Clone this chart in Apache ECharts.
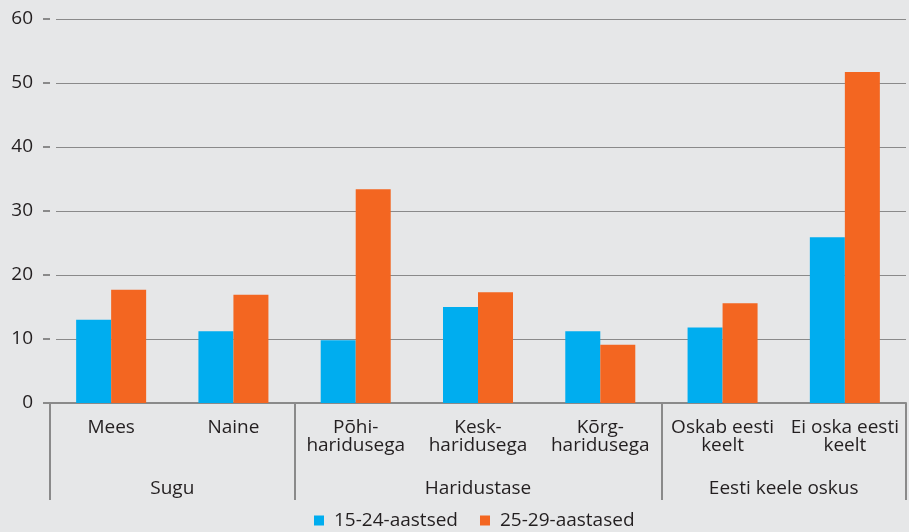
<!DOCTYPE html>
<html>
<head>
<meta charset="utf-8">
<script src="https://cdn.jsdelivr.net/npm/echarts@6/dist/echarts.min.js"></script>
<style>
  html, body { margin: 0; padding: 0; background: #e6e7e8; }
  #chart { width: 909px; height: 532px; }
</style>
</head>
<body>
<div id="chart"></div>
<script>
// andmed
var categories = ['Mees', 'Naine', 'Põhi-\nharidusega', 'Kesk-\nharidusega', 'Kõrg-\nharidusega', 'Oskab eesti\nkeelt', 'Ei oska eesti\nkeelt'];
var groups = ['Sugu', 'Haridustase', 'Eesti keele oskus'];
var groupEdges = [0, 2, 5, 7];
var groupCenters = [1, 3.5, 6];
var seriesNames = ['15-24-aastsed', '25-29-aastased'];
var young = [13.0, 11.2, 9.8, 15.0, 11.2, 11.8, 25.9];
var older = [17.7, 16.9, 33.4, 17.3, 9.1, 15.6, 51.7];
var yTicks = [0, 10, 20, 30, 40, 50, 60];

var font = '"Open Sans", sans-serif';
var txt = '#231f20';
var gray = '#8a8a8a';

var myChart = echarts.init(document.getElementById('chart'));
var option = {
    backgroundColor: '#e6e7e8',
    textStyle: { fontFamily: font },
    animation: false,
    grid: [
        { left: 50, right: 3, top: 19, bottom: 129 },
        { left: 56, right: 3, top: 19, bottom: 129 }
    ],
    legend: {
        bottom: -3,
        left: 309,
        itemWidth: 10,
        itemHeight: 10,
        itemGap: 22,
        icon: 'rect',
        textStyle: { fontFamily: font, fontSize: 19, color: txt, padding: [0, 0, 0, 5] },
        data: seriesNames
    },
    xAxis: [
        {
            type: 'category',
            gridIndex: 0,
            data: categories,
            axisLine: { lineStyle: { color: gray, width: 2 } },
            axisTick: { length: 60, interval: 0, lineStyle: { color: gray, width: 2 } },
            axisLabel: { interval: 0, margin: 16, fontSize: 19, lineHeight: 18, color: txt, fontFamily: font }
        },
        {
            type: 'value',
            gridIndex: 0,
            position: 'bottom',
            min: 0,
            max: 7,
            axisLine: { show: false },
            splitLine: { show: false },
            axisTick: { show: true, length: 97, customValues: groupEdges, lineStyle: { color: gray, width: 2 } },
            axisLabel: {
                margin: 76, fontSize: 19, color: txt, fontFamily: font,
                customValues: groupCenters,
                formatter: function (v) { return groups[groupCenters.indexOf(v)]; }
            }
        },
        { type: 'value', gridIndex: 1, show: false, min: 0, max: 1 }
    ],
    yAxis: [
        {
            type: 'value',
            gridIndex: 0,
            min: yTicks[0],
            max: yTicks[yTicks.length - 1],
            interval: 10,
            axisLine: { show: false },
            splitLine: { show: false },
            axisTick: { show: true, length: 7, lineStyle: { color: gray, width: 2 } },
            axisLabel: { margin: 17, fontSize: 19, color: txt, fontFamily: font }
        },
        {
            type: 'value',
            gridIndex: 1,
            min: yTicks[0],
            max: yTicks[yTicks.length - 1],
            interval: 10,
            axisLine: { show: false },
            axisTick: { show: false },
            axisLabel: { show: false },
            splitLine: { lineStyle: { color: gray, width: 1 } }
        }
    ],
    series: [
        {
            name: seriesNames[0],
            type: 'bar',
            xAxisIndex: 0,
            yAxisIndex: 0,
            data: young,
            barWidth: 35,
            barGap: '0%',
            itemStyle: { color: '#00adef' }
        },
        {
            name: seriesNames[1],
            type: 'bar',
            xAxisIndex: 0,
            yAxisIndex: 0,
            data: older,
            barWidth: 35,
            barGap: '0%',
            itemStyle: { color: '#f36621' }
        }
    ]
};
myChart.setOption(option);
</script>
</body>
</html>
